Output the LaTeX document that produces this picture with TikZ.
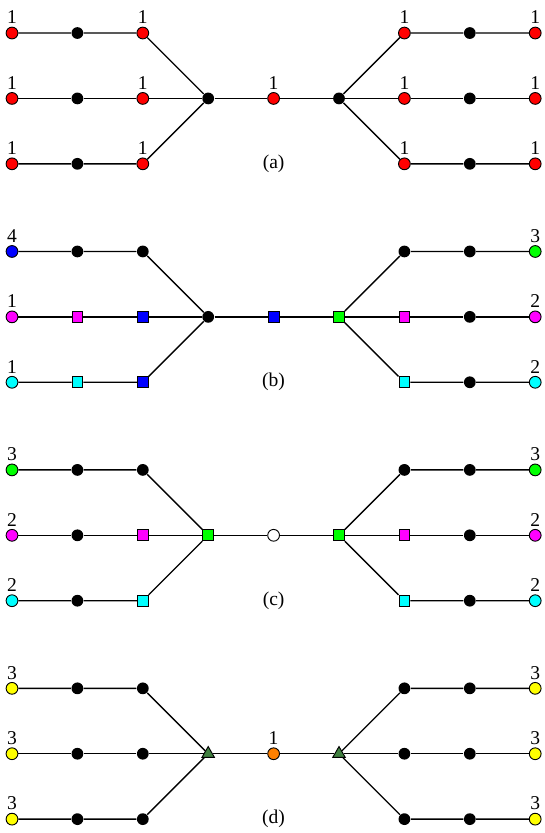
\documentclass[tikz,border=0pt]{standalone}
\usepackage{fontspec}
\setmainfont{Liberation Serif}
\usetikzlibrary{shapes.geometric}

\definecolor{trigreen}{rgb}{0.25,0.5,0.25}
\definecolor{orng}{rgb}{1,0.5,0}
\definecolor{mag}{rgb}{1,0,1}
\definecolor{cyn}{rgb}{0,1,1}
\definecolor{grn}{rgb}{0,1,0}
\definecolor{blu}{rgb}{0,0,1}
\definecolor{yel}{rgb}{1,1,0}
\definecolor{rd}{rgb}{1,0,0}

\begin{document}
\begin{tikzpicture}[
  every node/.style={font=\fontsize{8.5}{10}\selectfont},
  dot/.style={circle,fill=black,inner sep=0pt,minimum size=1.8mm},
  cnode/.style={circle,draw=black,fill=#1,inner sep=0pt,minimum size=1.8mm,line width=0.4pt},
  snode/.style={rectangle,draw=black,fill=#1,inner sep=0pt,minimum size=1.65mm,line width=0.4pt},
  tnode/.style={regular polygon,regular polygon sides=3,draw=black,fill=trigreen,inner sep=0pt,minimum size=2.2mm,line width=0.4pt},
  lab/.style={label={[inner sep=0pt,label distance=1pt]above:#1}},
  ln/.style={line width=0.6pt}]
 \useasboundingbox (-0.1835,0.505) rectangle (8.15,-12.232);
 % (a)
 \begin{scope}
  \node[cnode=rd,lab=1] (a10) at (0,0) {};
  \node[dot] (a11) at (1,0) {};
  \node[cnode=rd,lab=1] (a12) at (2,0) {};
  \node[cnode=rd,lab=1] (a20) at (0,-1) {};
  \node[dot] (a21) at (1,-1) {};
  \node[cnode=rd,lab=1] (a22) at (2,-1) {};
  \node[cnode=rd,lab=1] (a30) at (0,-2) {};
  \node[dot] (a31) at (1,-2) {};
  \node[cnode=rd,lab=1] (a32) at (2,-2) {};
  \node[dot] (aH) at (3,-1) {};
  \node[cnode=rd,lab=1] (aC) at (4,-1) {};
  \node[dot] (aK) at (5,-1) {};
  \node[cnode=rd,lab=1] (a16) at (6,0) {};
  \node[dot] (a17) at (7,0) {};
  \node[cnode=rd,lab=1] (a18) at (8,0) {};
  \node[cnode=rd,lab=1] (a26) at (6,-1) {};
  \node[dot] (a27) at (7,-1) {};
  \node[cnode=rd,lab=1] (a28) at (8,-1) {};
  \node[cnode=rd,lab=1] (a36) at (6,-2) {};
  \node[dot] (a37) at (7,-2) {};
  \node[cnode=rd,lab=1] (a38) at (8,-2) {};
  \node (acap) at (4,-2) {(a)};
 \end{scope}
 % (b)
 \begin{scope}[yshift=-3.34cm]
  \node[cnode=blu,lab=4] (b10) at (0,0) {};
  \node[dot] (b11) at (1,0) {};
  \node[dot] (b12) at (2,0) {};
  \node[cnode=mag,lab=1] (b20) at (0,-1) {};
  \node[snode=mag] (b21) at (1,-1) {};
  \node[snode=blu] (b22) at (2,-1) {};
  \node[cnode=cyn,lab=1] (b30) at (0,-2) {};
  \node[snode=cyn] (b31) at (1,-2) {};
  \node[snode=blu] (b32) at (2,-2) {};
  \node[dot] (bH) at (3,-1) {};
  \node[snode=blu] (bC) at (4,-1) {};
  \node[snode=grn] (bK) at (5,-1) {};
  \node[dot] (b16) at (6,0) {};
  \node[dot] (b17) at (7,0) {};
  \node[cnode=grn,lab=3] (b18) at (8,0) {};
  \node[snode=mag] (b26) at (6,-1) {};
  \node[dot] (b27) at (7,-1) {};
  \node[cnode=mag,lab=2] (b28) at (8,-1) {};
  \node[snode=cyn] (b36) at (6,-2) {};
  \node[dot] (b37) at (7,-2) {};
  \node[cnode=cyn,lab=2] (b38) at (8,-2) {};
  \node (bcap) at (4,-2) {(b)};
 \end{scope}
 % (c)
 \begin{scope}[yshift=-6.68cm]
  \node[cnode=grn,lab=3] (c10) at (0,0) {};
  \node[dot] (c11) at (1,0) {};
  \node[dot] (c12) at (2,0) {};
  \node[cnode=mag,lab=2] (c20) at (0,-1) {};
  \node[dot] (c21) at (1,-1) {};
  \node[snode=mag] (c22) at (2,-1) {};
  \node[cnode=cyn,lab=2] (c30) at (0,-2) {};
  \node[dot] (c31) at (1,-2) {};
  \node[snode=cyn] (c32) at (2,-2) {};
  \node[snode=grn] (cH) at (3,-1) {};
  \node[cnode=white] (cC) at (4,-1) {};
  \node[snode=grn] (cK) at (5,-1) {};
  \node[dot] (c16) at (6,0) {};
  \node[dot] (c17) at (7,0) {};
  \node[cnode=grn,lab=3] (c18) at (8,0) {};
  \node[snode=mag] (c26) at (6,-1) {};
  \node[dot] (c27) at (7,-1) {};
  \node[cnode=mag,lab=2] (c28) at (8,-1) {};
  \node[snode=cyn] (c36) at (6,-2) {};
  \node[dot] (c37) at (7,-2) {};
  \node[cnode=cyn,lab=2] (c38) at (8,-2) {};
  \node (ccap) at (4,-2) {(c)};
 \end{scope}
 % (d)
 \begin{scope}[yshift=-10.02cm]
  \node[cnode=yel,lab=3] (d10) at (0,0) {};
  \node[dot] (d11) at (1,0) {};
  \node[dot] (d12) at (2,0) {};
  \node[cnode=yel,lab=3] (d20) at (0,-1) {};
  \node[dot] (d21) at (1,-1) {};
  \node[dot] (d22) at (2,-1) {};
  \node[cnode=yel,lab=3] (d30) at (0,-2) {};
  \node[dot] (d31) at (1,-2) {};
  \node[dot] (d32) at (2,-2) {};
  \node[tnode] (dH) at (3,-1) {};
  \node[cnode=orng,lab=1] (dC) at (4,-1) {};
  \node[tnode] (dK) at (5,-1) {};
  \node[dot] (d16) at (6,0) {};
  \node[dot] (d17) at (7,0) {};
  \node[cnode=yel,lab=3] (d18) at (8,0) {};
  \node[dot] (d26) at (6,-1) {};
  \node[dot] (d27) at (7,-1) {};
  \node[cnode=yel,lab=3] (d28) at (8,-1) {};
  \node[dot] (d36) at (6,-2) {};
  \node[dot] (d37) at (7,-2) {};
  \node[cnode=yel,lab=3] (d38) at (8,-2) {};
  \node (dcap) at (4,-2) {(d)};
 \end{scope}
 \foreach \p in {a,b,c,d} {
   \foreach \r in {1,2,3} {
     \draw[ln] (\p\r0)--(\p\r1)--(\p\r2)--(\p H);
     \draw[ln] (\p K)--(\p\r6)--(\p\r7)--(\p\r8);
   }
   \draw[ln] (\p H)--(\p C)--(\p K);
 }
\end{tikzpicture}
\end{document}
